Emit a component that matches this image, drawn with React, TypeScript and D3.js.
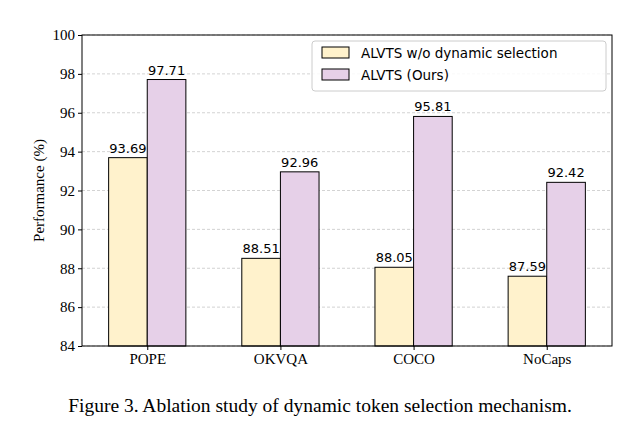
import React, { useEffect, useRef } from 'react';
import * as d3 from 'd3';

const categories = ['POPE', 'OKVQA', 'COCO', 'NoCaps'];
const baseValues = [93.69, 88.51, 88.05, 87.59];
const oursValues = [97.71, 92.96, 95.81, 92.42];
const seriesNames = ['ALVTS w/o dynamic selection', 'ALVTS (Ours)'];
const seriesColors = ['#fff2cc', '#e6d0e8'];
const yTicks = [84, 86, 88, 90, 92, 94, 96, 98, 100];

const App: React.FC = () => {
  const ref = useRef<SVGSVGElement>(null);
  const W = 640, H = 427;

  useEffect(() => {
    if (!ref.current) return;
    const svg = d3.select(ref.current);
    svg.selectAll('*').remove();
    const left = 82, right = 612, top = 35, bottom = 346;
    const font = 'DejaVu Sans';
    const serif = 'Liberation Serif';

    const x = d3.scaleLinear().domain([-0.49, 3.49]).range([left, right]);
    const y = d3.scaleLinear().domain([84, 100]).range([bottom, top]);
    const bw = 0.29;

    // grid
    svg.append('g').selectAll('line').data(yTicks).enter().append('line')
      .attr('x1', left).attr('x2', right)
      .attr('y1', d => y(d)).attr('y2', d => y(d))
      .attr('stroke', '#c8c8c8').attr('stroke-width', 0.8).attr('stroke-dasharray', '3,2');

    const series = [baseValues, oursValues];
    series.forEach((vals, s) => {
      const g = svg.append('g');
      vals.forEach((v, i) => {
        const x0 = x(i + (s === 0 ? -bw : 0));
        const x1 = x(i + (s === 0 ? 0 : bw));
        g.append('rect').attr('x', x0).attr('width', x1 - x0)
          .attr('y', y(v)).attr('height', bottom - y(v))
          .attr('fill', seriesColors[s]).attr('stroke', '#000').attr('stroke-width', 1);
        g.append('text').attr('x', (x0 + x1) / 2).attr('y', y(v) - 5)
          .attr('text-anchor', 'middle').attr('font-family', font).attr('font-size', 13)
          .text(v.toFixed(2));
      });
    });

    svg.append('rect').attr('x', left).attr('y', top).attr('width', right - left).attr('height', bottom - top)
      .attr('fill', 'none').attr('stroke', '#000').attr('stroke-width', 1);

    const ya = svg.append('g').attr('transform', `translate(${left},0)`)
      .call(d3.axisLeft(y).tickValues(yTicks).tickSize(4).tickFormat(d3.format('d')));
    ya.select('.domain').remove();
    ya.selectAll('text').attr('font-family', serif).attr('font-size', 15).attr('fill', '#000');

    const xa = svg.append('g').attr('transform', `translate(0,${bottom})`)
      .call(d3.axisBottom(x).tickValues(categories.map((_, i) => i)).tickSize(4)
        .tickFormat((d: any) => categories[d as number]));
    xa.select('.domain').remove();
    xa.selectAll('text').attr('font-family', serif).attr('font-size', 15).attr('fill', '#000');

    svg.append('text').attr('transform', `translate(44,${(top + bottom) / 2}) rotate(-90)`)
      .attr('text-anchor', 'middle').attr('font-family', serif).attr('font-size', 15)
      .text('Performance (%)');

    // legend
    const lg = svg.append('g');
    lg.append('rect').attr('x', 312).attr('y', 41).attr('width', 294).attr('height', 50)
      .attr('fill', '#fff').attr('fill-opacity', 0.85).attr('stroke', '#ccc').attr('rx', 3);
    seriesNames.forEach((n, i) => {
      lg.append('rect').attr('x', 322).attr('y', 47 + i * 22).attr('width', 27).attr('height', 11)
        .attr('fill', seriesColors[i]).attr('stroke', '#000');
      lg.append('text').attr('x', 361).attr('y', 58 + i * 22)
        .attr('font-family', font).attr('font-size', 13.5).text(n);
    });

    svg.append('text').attr('x', 320).attr('y', 412).attr('text-anchor', 'middle')
      .attr('font-family', serif).attr('font-size', 19.5)
      .text('Figure 3. Ablation study of dynamic token selection mechanism.');
  }, []);

  return <svg ref={ref} width={W} height={H} style={{ position: 'absolute', left: 0, top: 0, background: '#fff' }} />;
};

export default App;
